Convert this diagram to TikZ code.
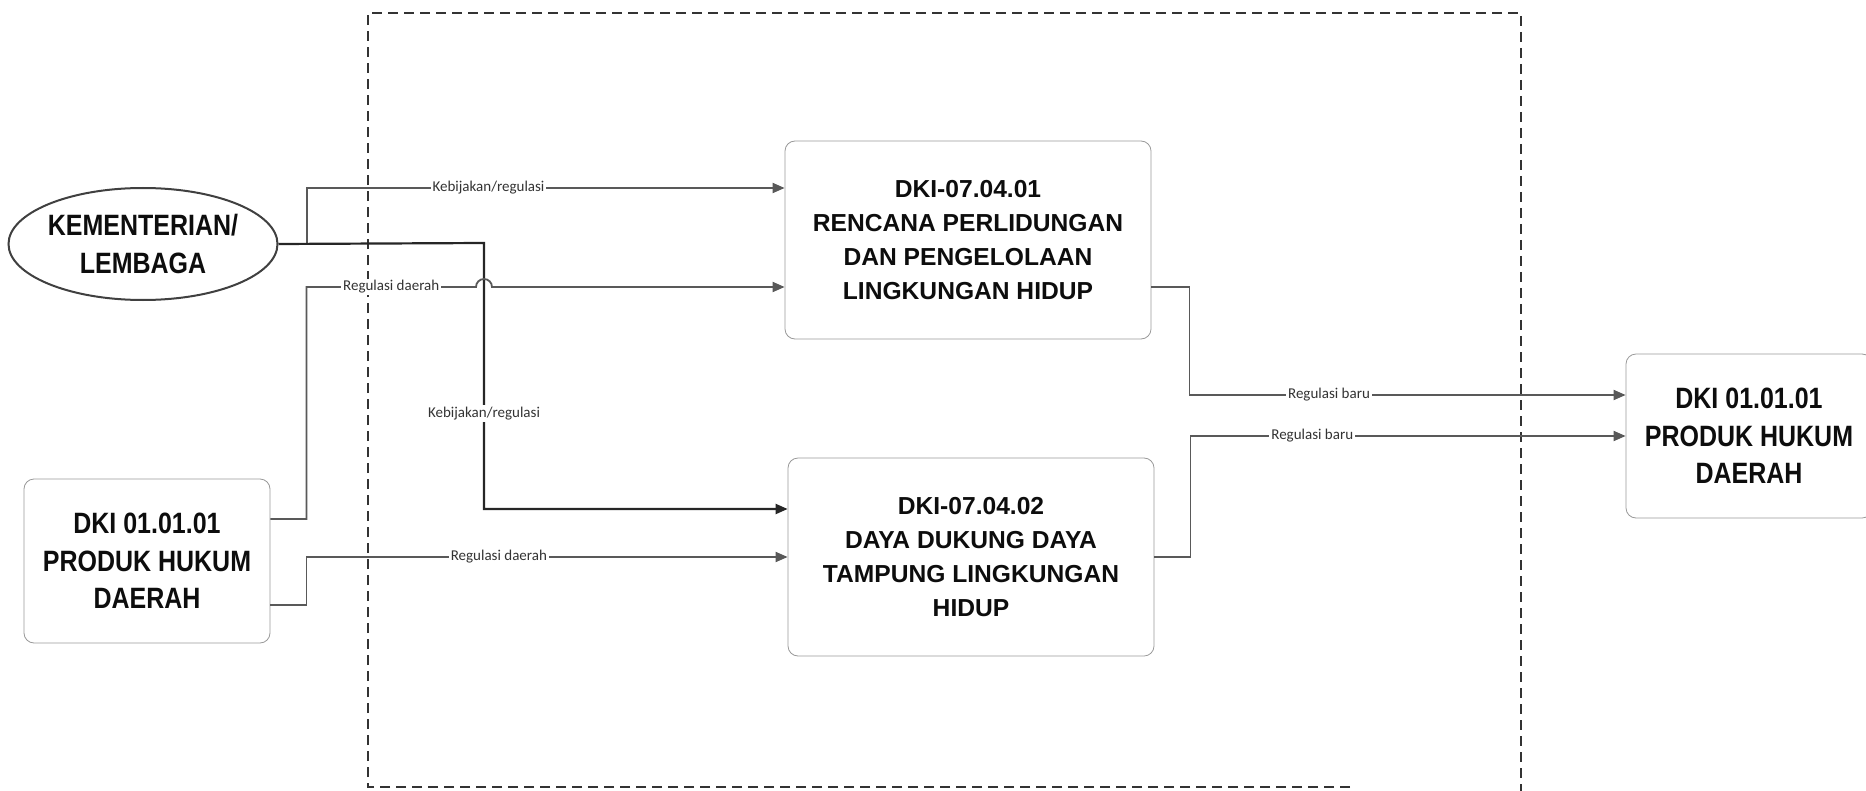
\documentclass[tikz,border=0pt]{standalone}
\usepackage{fontspec}
\setmainfont{Liberation Sans}
\newfontfamily\condfont[FakeStretch=0.85]{Liberation Sans}
\newfontfamily\lblfont{Carlito}
\usetikzlibrary{arrows.meta,shapes.geometric}

\begin{document}
\begin{tikzpicture}[x=0.5pt, y=-0.5pt,
 box/.style={rectangle, rounded corners=5pt, draw=black!40, line width=0.4pt, align=center, inner sep=2pt},
 midbox/.style={box, minimum width=183pt, minimum height=99pt, font=\fontsize{12.3}{17}\selectfont\bfseries, text=black!95},
 sidebox/.style={box, minimum width=123pt, minimum height=82pt, font=\condfont\fontsize{14.7}{18.7}\selectfont\bfseries, text=black!95},
 flow/.style={draw=black!65, line width=0.9pt, -{Triangle[length=6pt, width=5pt]}},
 flowk/.style={flow, draw=black!85, line width=1.1pt},
 lbl/.style={fill=white, inner sep=1pt, font=\lblfont\fontsize{7.5}{9}\selectfont, text=black!80},
]
\useasboundingbox (0,0) rectangle (1866,791);
\clip (0,0) rectangle (1866,791);

% dashed frame
\draw[dashed, dash pattern=on 5pt off 3pt, line width=0.6pt, black!80]
 (1350,787) -- (368,787) -- (368,13) -- (1521,13) -- (1521,791);

% nodes
\node[ellipse, draw=black!75, line width=1pt, minimum width=128pt, minimum height=56pt,
 inner sep=0pt, align=center, font=\condfont\fontsize{14.7}{18.7}\selectfont\bfseries, text=black!95]
 (kl) at (143,244) {KEMENTERIAN/\\LEMBAGA};
\node[midbox] (rpl) at (968,240) {DKI-07.04.01\\RENCANA PERLIDUNGAN\\DAN PENGELOLAAN\\LINGKUNGAN HIDUP};
\node[midbox] (dd) at (971,557) {DKI-07.04.02\\DAYA DUKUNG DAYA\\TAMPUNG LINGKUNGAN\\HIDUP};
\node[sidebox] (pk) at (147,561) {DKI 01.01.01\\PRODUK HUKUM\\DAERAH};
\node[sidebox] (pkb) at (1749,436) {DKI 01.01.01\\PRODUK HUKUM\\DAERAH};

\coordinate (j1) at (307,243);
\coordinate (j2) at (484,243);
\coordinate (hop) at (484,287);

% kementerian/lembaga
\draw[flow] (j1) |- node[lbl, pos=0.69]{Kebijakan/regulasi} ([yshift=26pt]rpl.west);
\draw[flowk] (kl.east) -- (j2) |- node[lbl, pos=0.32]{Kebijakan/regulasi} ([yshift=24pt]dd.west);

% produk hukum daerah
\draw[flow] ([yshift=21pt]pk.east) -- ++(18pt,0) |- node[lbl, pos=0.75]{Regulasi daerah} ([xshift=-4pt]hop)
 arc[start angle=180, end angle=360, radius=8] -- (rpl.west |- hop);
\draw[flow] ([yshift=-22pt]pk.east) -- ++(18pt,0) |- node[lbl, pos=0.7]{Regulasi daerah} (dd.west);

% regulasi baru
\draw[flow] ([yshift=-23.5pt]rpl.east) -- ++(19pt,0) |- node[lbl, pos=0.66]{Regulasi baru} ([yshift=20.5pt]pkb.west);
\draw[flow] (dd.east) -- ++(18pt,0) |- node[lbl, pos=0.64]{Regulasi baru} (pkb.west);
\end{tikzpicture}
\end{document}
